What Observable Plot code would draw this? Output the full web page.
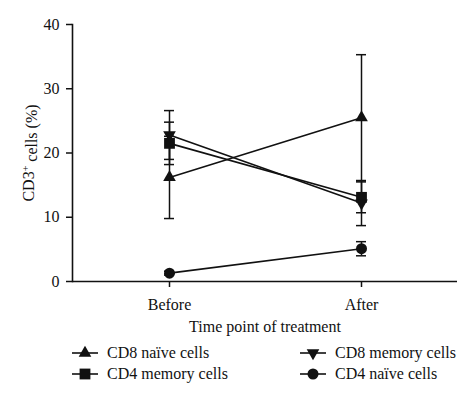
<!DOCTYPE html>
<html>
<head>
<meta charset="utf-8">
<script src="https://cdn.jsdelivr.net/npm/d3@7"></script>
<script src="https://cdn.jsdelivr.net/npm/@observablehq/plot@0.6"></script>
<style>
  body { margin: 0; background: #fff; font-family: "Liberation Serif", "DejaVu Serif", serif; color: #111; }
  #legend { display: grid; grid-template-columns: 228px 176px; margin-left: 72px; margin-top: 3px; row-gap: 1px; font-size: 16px; }
  .item { display: flex; align-items: center; height: 20px; }
  .item svg { margin-right: 9px; }
</style>
</head>
<body>
<div id="chart"></div>
<div id="legend"></div>
<script>
const times = ["Before", "After"];
const series = ["CD8 naïve cells", "CD4 memory cells", "CD8 memory cells", "CD4 naïve cells"];
const symbols = ["triangle", "square", "triangle", "circle"];
const rotations = [0, 0, 180, 0];
const sizes = [4.7, 6.1, 4.7, 5.5];
const beforeMean = [16.2, 21.5, 22.8, 1.3];
const beforeSD = [6.4, 3.3, 3.8, 0.3];
const afterMean = [25.5, 13.1, 12.2, 5.1];
const afterSD = [9.8, 2.4, 3.5, 1.1];
const yTicks = [0, 10, 20, 30, 40];

const data = [];
series.forEach((s, i) => {
  data.push({series: s, time: "Before", mean: beforeMean[i], sd: beforeSD[i], sym: symbols[i], rot: rotations[i], r: sizes[i]});
  data.push({series: s, time: "After", mean: afterMean[i], sd: afterSD[i], sym: symbols[i], rot: rotations[i], r: sizes[i]});
});

const ink = "#111";
const chart = Plot.plot({
  width: 474,
  height: 340,
  marginLeft: 72,
  marginRight: 17,
  marginTop: 24,
  marginBottom: 59,
  style: {fontFamily: "Liberation Serif, DejaVu Serif, serif", fontSize: "16px", color: ink, background: "#fff"},
  x: {type: "band", domain: times, padding: 0},
  y: {domain: [0, 40]},
  r: {type: "identity"},
  symbol: {type: "identity"},
  marks: [
    Plot.axisY({ticks: yTicks, tickSize: 6, tickPadding: 7, label: "CD3+ cells (%)", labelAnchor: "center", labelArrow: "none", labelOffset: 50, fontSize: 16, strokeWidth: 1.5}),
    Plot.axisX({tickSize: 6, tickPadding: 11, label: "Time point of treatment", labelAnchor: "center", labelArrow: "none", labelOffset: 50, fontSize: 16, strokeWidth: 1.5}),
    Plot.ruleY([0], {stroke: ink, strokeWidth: 1.6}),
    Plot.frame({anchor: "left", stroke: ink, strokeWidth: 1.6}),
    Plot.ruleX(data, {x: "time", y1: d => d.mean - d.sd, y2: d => d.mean + d.sd, stroke: ink, strokeWidth: 1.5}),
    Plot.tickY(data, {x: "time", y: d => d.mean - d.sd, stroke: ink, strokeWidth: 1.5, insetLeft: 91, insetRight: 91}),
    Plot.tickY(data, {x: "time", y: d => d.mean + d.sd, stroke: ink, strokeWidth: 1.5, insetLeft: 91, insetRight: 91}),
    Plot.line(data, {x: "time", y: "mean", z: "series", stroke: ink, strokeWidth: 1.6}),
    Plot.dot(data, {x: "time", y: "mean", symbol: "sym", rotate: "rot", r: "r", fill: ink, stroke: "none"})
  ]
});
document.getElementById("chart").appendChild(chart);

// superscript in y label
d3.select(chart).selectAll("text").each(function() {
  const t = d3.select(this);
  if (t.text() === "CD3+ cells (%)") {
    t.text(null);
    t.append("tspan").text("CD3");
    t.append("tspan").attr("dy", "-0.45em").attr("font-size", "10px").text("+");
    t.append("tspan").attr("dy", "0.45em").text(" cells (%)");
  }
});

// legend
const order = [0, 2, 1, 3];
const leg = d3.select("#legend");
order.forEach(i => {
  const item = leg.append("div").attr("class", "item");
  const svg = item.append("svg").attr("width", 26).attr("height", 16);
  svg.append("line").attr("x1", 0).attr("x2", 26).attr("y1", 8).attr("y2", 8).attr("stroke", ink).attr("stroke-width", 1.6);
  const symType = {triangle: d3.symbolTriangle, square: d3.symbolSquare, circle: d3.symbolCircle}[symbols[i]];
  svg.append("path").attr("d", d3.symbol(symType, Math.PI * sizes[i] * sizes[i])()).attr("transform", `translate(13,8) rotate(${rotations[i]})`).attr("fill", ink);
  item.append("span").text(series[i]);
});
</script>
</body>
</html>
